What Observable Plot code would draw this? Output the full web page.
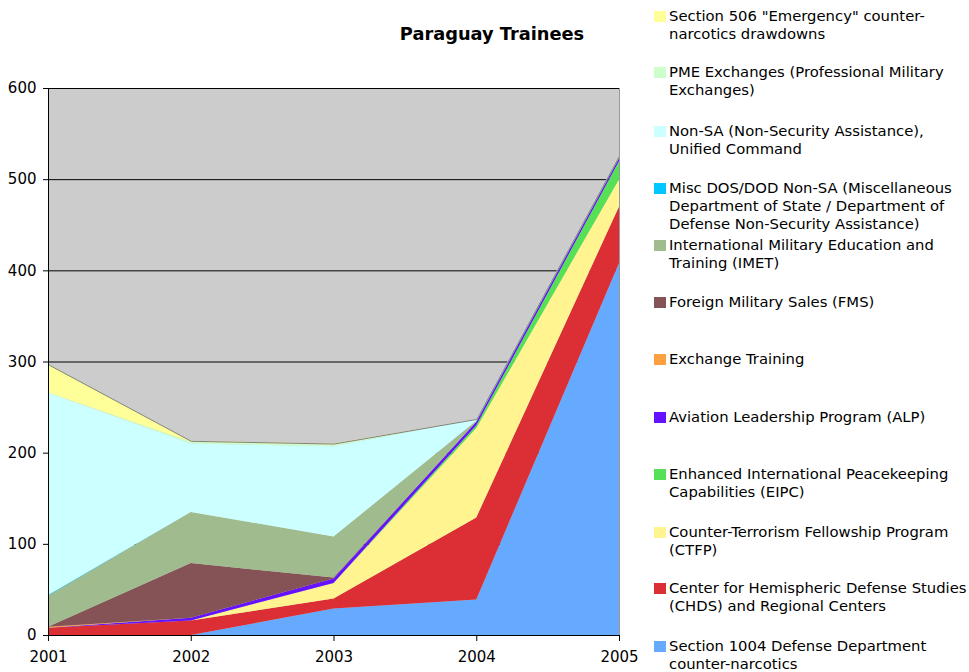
<!DOCTYPE html>
<html><head><meta charset="utf-8">
<script src="https://cdn.jsdelivr.net/npm/d3@7"></script>
<script src="https://cdn.jsdelivr.net/npm/@observablehq/plot@0.6"></script>
<style>
body{margin:0;background:#fff;font-family:"DejaVu Sans",Verdana,sans-serif;}
#wrap{position:relative;width:969px;height:672px;overflow:hidden;background:#fff}
#chart{position:absolute;left:0;top:0}
#title{position:absolute;left:392px;width:200px;text-align:center;top:23px;font-weight:bold;font-size:17.8px;color:#000;white-space:nowrap}
.li{position:absolute;left:654px;font-size:14.8px;line-height:18px;color:#000}
.sw{position:absolute;left:0;top:0;width:12px;height:11px}
.tx{position:absolute;left:15px;top:-4px;white-space:nowrap}
</style></head><body>
<div id="wrap"><div id="chart"></div><div id="title">Paraguay Trainees</div><div id="legend"></div></div>
<script>
const years = [2001, 2002, 2003, 2004, 2005];
// stack order: bottom to top
const series = [
  "Section 1004 Defense Department counter-narcotics",
  "Center for Hemispheric Defense Studies (CHDS) and Regional Centers",
  "Counter-Terrorism Fellowship Program (CTFP)",
  "Enhanced International Peacekeeping Capabilities (EIPC)",
  "Aviation Leadership Program (ALP)",
  "Exchange Training",
  "Foreign Military Sales (FMS)",
  "International Military Education and Training (IMET)",
  "Misc DOS/DOD Non-SA (Miscellaneous Department of State / Department of Defense Non-Security Assistance)",
  "Non-SA (Non-Security Assistance), Unified Command",
  "PME Exchanges (Professional Military Exchanges)",
  "Section 506 \"Emergency\" counter-narcotics drawdowns"
];
const legendLines = [
  ["Section 1004 Defense Department", "counter-narcotics"],
  ["Center for Hemispheric Defense Studies", "(CHDS) and Regional Centers"],
  ["Counter-Terrorism Fellowship Program", "(CTFP)"],
  ["Enhanced International Peacekeeping", "Capabilities (EIPC)"],
  ["Aviation Leadership Program (ALP)"],
  ["Exchange Training"],
  ["Foreign Military Sales (FMS)"],
  ["International Military Education and", "Training (IMET)"],
  ["Misc DOS/DOD Non-SA (Miscellaneous", "Department of State / Department of", "Defense Non-Security Assistance)"],
  ["Non-SA (Non-Security Assistance),", "Unified Command"],
  ["PME Exchanges (Professional Military", "Exchanges)"],
  ["Section 506 \"Emergency\" counter-", "narcotics drawdowns"]
];
const colors = ["#66AAFF", "#DC2E35", "#FFF490", "#55E055", "#6611FF", "#FFA040",
  "#855355", "#A0BC8E", "#00C8FF", "#CCFFFF", "#CCFFCC", "#FFFF99"];

const section1004 = [0, 0, 29, 39, 408];
const chds        = [8, 16, 11, 90, 62];
const ctfp        = [0, 0, 17, 98, 30];
const eipc        = [0, 0, 0, 3, 20];
const alp         = [0, 3, 5, 4, 3];
const exchange    = [1, 0, 0, 0, 0];
const fms         = [0, 60, 1, 0, 0];
const imet        = [34, 56, 45, 1, 1];
const miscNonSA   = [1, 0, 0, 0, 0];
const nonSA       = [222, 75, 99, 2, 1];
const pme         = [0, 2, 2, 0, 1];
const section506  = [31, 1, 1, 0, 0];
const yTicks = [0, 100, 200, 300, 400, 500, 600];

const values = [section1004, chds, ctfp, eipc, alp, exchange, fms, imet, miscNonSA, nonSA, pme, section506];
const rows = series.flatMap((s, i) => years.map((yr, j) => ({series: s, year: yr, value: values[i][j]})));
const totals = years.map((yr, j) => ({year: yr, total: d3.sum(values, v => v[j])}));

const chart = Plot.plot({
  width: 969, height: 672,
  marginLeft: 48, marginRight: 350, marginTop: 88, marginBottom: 37,
  style: {fontFamily: "DejaVu Sans, Verdana, sans-serif", fontSize: "15px", color: "#000", background: "transparent"},
  x: {type: "linear", domain: [2001, 2005]},
  y: {domain: [0, 600]},
  color: {domain: series, range: colors},
  marks: [
    Plot.frame({fill: "#CCCCCC", stroke: null}),
    Plot.ruleY(yTicks.slice(1), {stroke: "#000", strokeWidth: 1}),
    Plot.areaY(rows, {x: "year", y: "value", fill: "series", order: series}),
    Plot.lineY(totals, {x: "year", y: "total", stroke: "#808080", strokeWidth: 1}),
    Plot.ruleX([2005], {stroke: "#999"}),
    Plot.ruleX([2001], {stroke: "#000"}),
    Plot.ruleY([0], {stroke: "#000"}),
    Plot.axisY({ticks: yTicks, tickSize: 5, tickPadding: 7, fontSize: 15, label: null}),
    Plot.axisX({ticks: years, tickFormat: d => String(d), tickSize: 6, tickPadding: 10, fontSize: 15, label: null})
  ]
});
document.getElementById("chart").appendChild(chart);

const tops = [641, 583, 527, 469, 412, 354, 297, 240, 183, 126, 67, 11];
const legend = document.getElementById("legend");
series.forEach((s, i) => {
  const li = document.createElement("div");
  li.className = "li";
  li.style.top = tops[i] + "px";
  const sw = document.createElement("div");
  sw.className = "sw";
  sw.style.background = colors[i];
  const tx = document.createElement("div");
  tx.className = "tx";
  tx.innerHTML = legendLines[i].map(l => l.replace(/&/g, "&amp;").replace(/</g, "&lt;")).join("<br>");
  li.appendChild(sw); li.appendChild(tx);
  legend.appendChild(li);
});
</script>
</body></html>
